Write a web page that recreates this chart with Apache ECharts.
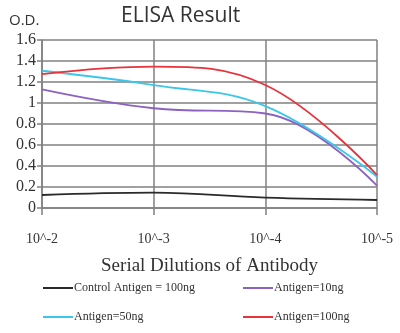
<!DOCTYPE html>
<html>
<head>
<meta charset="utf-8">
<script src="https://cdn.jsdelivr.net/npm/echarts@6/dist/echarts.min.js"></script>
<style>
  html, body { margin: 0; padding: 0; background: #fff; }
  #chart { width: 400px; height: 333px; }
</style>
</head>
<body>
<div id="chart"></div>
<script>
// Dilution steps along the x axis
const dilutions = ['10^-2', '10^-3', '10^-4', '10^-5'];

// O.D. readings per antigen amount
const controlAntigen100 = [0.124, 0.146, 0.098, 0.076];
const antigen10 = [1.13, 0.95, 0.90, 0.212];
const antigen50 = [1.307, 1.17, 0.971, 0.298];
const antigen100 = [1.276, 1.346, 1.171, 0.314];

// Y-axis range
const yMin = 0, yMax = 1.6, yStep = 0.2;

const seriesNames = ['Control Antigen = 100ng', 'Antigen=10ng', 'Antigen=50ng', 'Antigen=100ng'];
const seriesData = [controlAntigen100, antigen10, antigen50, antigen100];
const seriesColors = ['#2a2a2a', '#8c62c0', '#3cc6ea', '#e8333c'];

const serif = '"Liberation Serif", "DejaVu Serif", serif';
const sans = '"Open Sans", "Liberation Sans", sans-serif';

const chart = echarts.init(document.getElementById('chart'), null, { renderer: 'canvas' });

chart.setOption({
  animation: false,
  backgroundColor: '#fff',
  title: [
    {
      text: 'ELISA Result',
      left: 116, top: 1,
      textStyle: { fontFamily: sans, fontSize: 21, fontWeight: 'normal', color: '#333' }
    },
    {
      text: 'O.D.',
      left: 4, top: 8,
      textStyle: { fontFamily: sans, fontSize: 15, fontWeight: 'normal', color: '#333' }
    }
  ],
  grid: { left: 42, right: 23, top: 40, bottom: 125, containLabel: false },
  xAxis: {
    type: 'category',
    data: dilutions,
    boundaryGap: false,
    axisLine: { show: true, lineStyle: { color: '#808080', width: 1.5 } },
    axisTick: { show: true, alignWithLabel: true, length: 7, lineStyle: { color: '#808080', width: 1.5 } },
    splitLine: { show: true, lineStyle: { color: '#808080', width: 1.5 } },
    axisLabel: { fontFamily: serif, fontSize: 14, color: '#333', margin: 24 },
    name: 'Serial Dilutions of Antibody',
    nameLocation: 'middle',
    nameGap: 49,
    nameTextStyle: { fontFamily: serif, fontSize: 19, color: '#333' }
  },
  yAxis: {
    type: 'value',
    min: yMin, max: yMax, interval: yStep,
    axisLine: { show: true, lineStyle: { color: '#808080', width: 1.5 } },
    axisTick: { show: true, length: 5, lineStyle: { color: '#808080', width: 1.5 } },
    splitLine: { show: true, lineStyle: { color: '#808080', width: 1.5 } },
    axisLabel: { fontFamily: serif, fontSize: 16, color: '#333', margin: 6,
      formatter: v => String(Math.round(v * 10) / 10) }
  },
  legend: [
    {
      left: 38, top: 277, orient: 'vertical', itemGap: 17,
      icon: 'rect', itemWidth: 30, itemHeight: 2,
      data: [seriesNames[0], seriesNames[2]],
      textStyle: { fontFamily: serif, fontSize: 12, color: '#333', padding: [0, 0, 0, -4] }
    },
    {
      left: 238, top: 277, orient: 'vertical', itemGap: 17,
      icon: 'rect', itemWidth: 30, itemHeight: 2,
      data: [seriesNames[1], seriesNames[3]],
      textStyle: { fontFamily: serif, fontSize: 12, color: '#333', padding: [0, 0, 0, -4] }
    }
  ],
  series: seriesNames.map((name, i) => ({
    name,
    type: 'line',
    data: seriesData[i],
    smooth: 0.4,
    showSymbol: false,
    symbol: 'none',
    color: seriesColors[i],
    lineStyle: { width: 1.8, color: seriesColors[i] }
  }))
});
</script>
</body>
</html>
